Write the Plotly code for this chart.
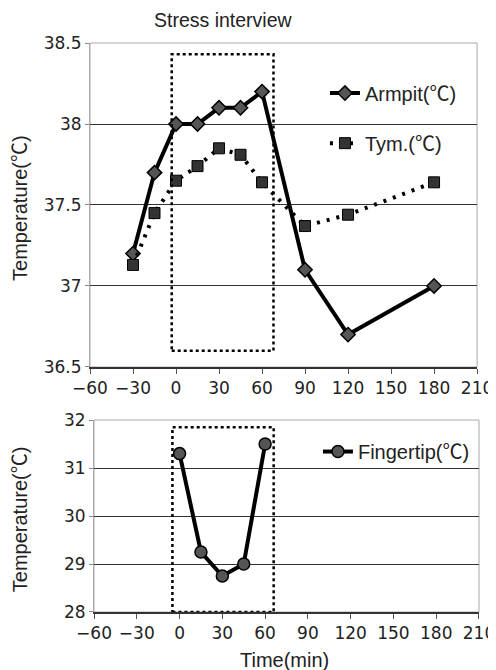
import plotly.graph_objects as go

# ---- data ----
time_core = [-30, -15, 0, 15, 30, 45, 60, 90, 120, 180]
armpit = [37.2, 37.7, 38.0, 38.0, 38.1, 38.1, 38.2, 37.1, 36.7, 37.0]
tym = [37.13, 37.45, 37.65, 37.74, 37.85, 37.81, 37.64, 37.37, 37.44, 37.64]

time_finger = [0, 15, 30, 45, 60]
fingertip = [31.3, 29.25, 28.75, 29.0, 31.5]

x_ticks = [-60, -30, 0, 30, 60, 90, 120, 150, 180, 210]
x_ticklabels = ["\u221260", "\u221230", "0", "30", "60", "90", "120", "150", "180", "210"]
y_top_ticks = [36.5, 37, 37.5, 38, 38.5]
y_top_labels = ["36.5", "37", "37.5", "38", "38.5"]
y_bot_ticks = [28, 29, 30, 31, 32]

# stress interview window boxes (data units)
box_top_x = [-3, 68]
box_top_y = [36.6, 38.43]
box_bot_x = [-5, 66]
box_bot_y = [28.0, 31.85]

FONT = "DejaVu Sans, sans-serif"
TXT = "Liberation Sans, Noto Sans CJK KR, sans-serif"

fig = go.Figure()

fig.add_trace(go.Scatter(
    x=time_core, y=armpit, mode="lines+markers", name="Armpit(\u2103)",
    line=dict(color="black", width=4),
    marker=dict(symbol="diamond", size=11, color="#555", line=dict(color="black", width=1.5)),
    xaxis="x", yaxis="y", legend="legend"))

fig.add_trace(go.Scatter(
    x=time_core, y=tym, mode="lines+markers", name="Tym.(\u2103)",
    line=dict(color="black", width=4, dash="3px,7px"),
    marker=dict(symbol="square", size=11, color="#333", line=dict(color="black", width=1)),
    xaxis="x", yaxis="y", legend="legend2"))

fig.add_trace(go.Scatter(
    x=time_finger, y=fingertip, mode="lines+markers", name="Fingertip(\u2103)",
    line=dict(color="black", width=4),
    marker=dict(symbol="circle", size=12, color="#555", line=dict(color="black", width=1.5)),
    xaxis="x2", yaxis="y2", legend="legend3"))

# dotted window rectangles
fig.add_shape(type="rect", xref="x", yref="y", x0=box_top_x[0], x1=box_top_x[1],
              y0=box_top_y[0], y1=box_top_y[1], line=dict(color="black", width=2.5, dash="dot"))
fig.add_shape(type="rect", xref="x2", yref="y2", x0=box_bot_x[0], x1=box_bot_x[1],
              y0=box_bot_y[0], y1=box_bot_y[1], line=dict(color="black", width=2.5, dash="dot"))

# plot frames (gray)
for xr, yr in [("x domain", "y domain"), ("x2 domain", "y2 domain")]:
    fig.add_shape(type="rect", xref=xr, yref=yr, x0=0, x1=1, y0=0, y1=1,
                  line=dict(color="#aaa", width=1), layer="below")

xaxis_common = dict(showgrid=False, zeroline=False, ticks="outside", ticklen=5,
                    tickcolor="#555", showline=True, linecolor="#333", linewidth=1.5,
                    automargin=False,
                    tickfont=dict(size=17, color="#222", family=FONT))
yaxis_common = dict(showgrid=True, gridcolor="#333", gridwidth=1, zeroline=False,
                    showline=True, linecolor="#aaa", linewidth=1, ticks="outside",
                    ticklen=4, tickcolor="#888", automargin=False,
                    tickfont=dict(size=17, color="#222", family=FONT))

legend_common = dict(xanchor="left", yanchor="middle", bgcolor="rgba(0,0,0,0)",
                     font=dict(size=20, family=TXT, color="#222"), itemwidth=30)

fig.update_layout(
    width=488, height=662,
    margin=dict(l=82, r=17, t=35, b=58),
    paper_bgcolor="white", plot_bgcolor="white",
    font=dict(family=TXT, color="#222"),
    showlegend=True,
    xaxis=dict(domain=[0, 0.995], range=[-60, 210], tickvals=x_ticks, ticktext=x_ticklabels,
               anchor="y", **xaxis_common),
    yaxis=dict(domain=[0.4306, 1], range=[36.5, 38.5], tickvals=y_top_ticks, ticktext=y_top_labels,
               anchor="x", **yaxis_common),
    xaxis2=dict(domain=[0.0103, 1], range=[-60, 210], tickvals=x_ticks, ticktext=x_ticklabels,
                anchor="y2", **xaxis_common),
    yaxis2=dict(domain=[0, 0.3374], range=[28, 32], tickvals=y_bot_ticks,
                anchor="x2", **yaxis_common),
    legend=dict(x=0.604, y=0.912, **legend_common),
    legend2=dict(x=0.604, y=0.824, **legend_common),
    legend3=dict(x=0.586, y=0.282, **legend_common),
    annotations=[
        dict(text="Stress interview", xref="paper", yref="paper", x=0.342, y=1.0404,
             showarrow=False, xanchor="center", yanchor="middle",
             font=dict(size=19.5, family=TXT, color="#222")),
        dict(text="Temperature(\u2103)", xref="paper", yref="paper", x=-0.18, y=0.710,
             showarrow=False, textangle=-90, xanchor="center", yanchor="middle",
             font=dict(size=20, family=TXT, color="#222")),
        dict(text="Temperature(\u2103)", xref="paper", yref="paper", x=-0.18, y=0.163,
             showarrow=False, textangle=-90, xanchor="center", yanchor="middle",
             font=dict(size=20, family=TXT, color="#222")),
        dict(text="Time(min)", xref="paper", yref="paper", x=0.501, y=-0.0844,
             showarrow=False, xanchor="center", yanchor="middle",
             font=dict(size=20, family=TXT, color="#222")),
    ],
)

fig.write_html("out.html")
